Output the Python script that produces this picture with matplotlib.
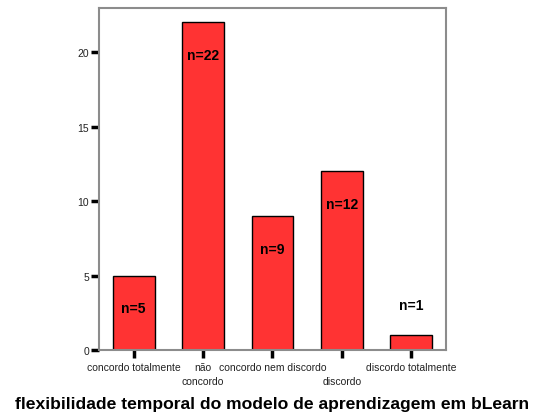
import matplotlib
matplotlib.use("Agg")
import matplotlib.pyplot as plt

plt.rcParams['font.family'] = ['Liberation Sans', 'DejaVu Sans']

# data
categories = ['concordo totalmente', 'não\nconcordo', 'concordo nem discordo',
              '\ndiscordo', 'discordo totalmente']
counts = [5, 22, 9, 12, 1]
labels = ['n=5', 'n=22', 'n=9', 'n=12', 'n=1']

fig = plt.figure(figsize=(5.34, 4.14), dpi=100)
ax = fig.add_axes([0.1854, 0.152, 0.6496, 0.826])

x = list(range(len(counts)))
ax.bar(x, counts, width=0.6, color='#ff3333', edgecolor='black', linewidth=1.0)

for xi, c, lab in zip(x, counts, labels):
    y = c - 2.2 if c > 3 else c + 2.0
    ax.text(xi, y, lab, ha='center', va='center', fontsize=10, fontweight='bold')

ax.set_xlim(-0.5, 4.5)
ax.set_ylim(0, 22.95)
ax.set_yticks([0, 5, 10, 15, 20])
ax.set_xticks(x)
ax.set_xticklabels(categories, fontsize=7.5, color='#222222', linespacing=1.5)
ax.tick_params(axis='y', labelsize=7.5, labelcolor='#222222', length=6, width=2.5, pad=1)
ax.tick_params(axis='x', length=5.5, width=2.5, pad=3)

for s in ax.spines.values():
    s.set_color('#8c8c8c')
    s.set_linewidth(1.5)

ax.set_xlabel('flexibilidade temporal do modelo de aprendizagem em bLearn',
              fontsize=12.6, fontweight='bold', labelpad=7)

fig.savefig('out.png', dpi=100)
